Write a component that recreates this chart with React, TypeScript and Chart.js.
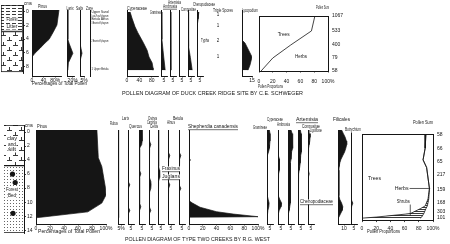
import React, { useEffect, useMemo, useRef } from 'react';
import { Chart, registerables } from 'chart.js';

Chart.register(...registerables);

const INK = '#151515';
const FONT = "'Liberation Sans', 'DejaVu Sans', sans-serif";
Chart.defaults.font.family = FONT;

/* ================= DATA : Duck Creek Ridge (top diagram) ================= */
const topDepthTicks = [0, 2, 4, 6, 8];
const topLithoBounds = [-1, 2.9, 8.85];
const topLithoKinds = ['litter', 'marsh'];

const pinusTopDepth = [0, 2.05, 3.1, 4.0, 4.5, 5.2, 5.9, 6.4, 8.1];
const pinusTopPct = [93, 86, 72, 59, 45, 28, 10, 0, 0];
const larixTopDepth = [0, 4, 4.6, 5.9, 7.2, 8.2];
const larixTopPct = [3, 3, 8, 21, 5, 3];
const salixTopDepth = [0, 4.8, 5.9, 6.8, 8.2];
const salixTopPct = [0.4, 0.4, 2.5, 0.4, 0.4];
const cyperTopDepth = [0.27, 1.1, 2.3, 3.1, 4.4, 5.5, 6.4, 7.2, 7.9, 8.2];
const cyperTopPct = [10, 16, 26, 35, 52, 65, 71, 81, 84, 84];
const gramTopDepth = [0.27, 4, 6, 8.2];
const gramTopPct = [0.5, 1.5, 4, 7];
const ambrTopDepth = [0.27, 8.2];
const ambrTopPct = [0.8, 1.5];
const artTopDepth = [0.27, 8.2];
const artTopPct = [0.8, 0.8];
const compTopDepth = [0.27, 5, 6.5, 8.2];
const compTopPct = [0.5, 1, 4, 7];
const chenTopDepth = [0.27, 1.2, 2, 8.2];
const chenTopPct = [3, 2, 0.5, 0.5];
const lycoTopDepth = [4.1, 4.5, 6.4, 7.5, 8.2];
const lycoTopPct = [0, 4.5, 15, 12, 9];
const tripleDepth = [0.7, 2.2, 4.2, 6.4];
const tripleCount = [1, 1, 2, 1];
const zoneDepth = [0.31, 0.78, 1.27, 1.82, 4.19, 8.05];
const zoneText = ['Upper Sand', 'Larix-Picea Sphagnum', 'Betula Alnus', '3 Brownish Sphagnum', '2 Brownish Sphagnum', '1 Upper Betula'];
const sumTopDepth = [0.27, 2.45, 4.5, 6.4, 8.3];
const sumTop = [1067, 533, 400, 79, 58];
const treesTopPct = [81, 76, 46, 20, 3];

/* ================= DATA : Two Creeks (bottom diagram) ================= */
const botDepthTicks = [0, 2, 4, 6, 8, 10, 12, 14];
const botLithoBounds = [-1, 4.8, 14.4];
const botLithoKinds = ['marsh', 'stipple'];

const pinusBotDepth = [0, 3.8, 5, 7.8, 8.9, 10, 11.2, 12];
const pinusBotPct = [87, 89, 94, 99, 100, 94, 74, 1];

const gridB = [0, 0.5, 1, 1.5, 2, 2.5, 3, 3.5, 4, 4.5, 5, 5.5, 6, 6.5, 7, 7.5, 8, 8.5, 9, 9.5, 10, 10.5, 11, 11.5, 12];
const rubusB = [0, 0, 0, 0, 0, 0, 0, 0, 1.5, 1.5, 1.5, 1.5, 1.5, 1.5, 1.5, 1.5, 1.5, 1.5, 1.5, 1.5, 1.5, 1.5, 1.5, 1.5, 0];
const larixB = [0, 0, 0, 0, 0, 0, 0, 0, 0, 0, 0, 0, 0, 0, 0.5, 3, 0.5, 0, 0, 0, 0, 0.5, 3, 0.5, 0];
const quercusB = [5, 5.5, 5.5, 5, 4.5, 1, 1, 1, 1, 1, 1, 1, 3, 1, 1, 1, 1, 1, 1, 1, 1, 3, 1, 1, 0];
const carpinusB = [0.5, 0.5, 0.5, 1.5, 3, 1, 0.5, 0.5, 0.5, 0.5, 0.5, 0.5, 0.5, 1, 3, 3.5, 3, 1, 0.5, 0.5, 0.5, 0.5, 3, 0.5, 0];
const celtisB = [1, 1, 1, 1, 1, 1, 1, 1, 1, 1, 1.5, 2.5, 3, 2.5, 1, 0.5, 0.5, 0.5, 0.5, 0.5, 0.5, 0.5, 0.5, 0.5, 0];
const alnusB = [0.3, 0.3, 0.3, 0.3, 0.3, 0.3, 1, 3, 1, 0.3, 0.3, 0.3, 0.3, 0.3, 0.3, 3, 1, 0.3, 0.3, 0.3, 0.3, 0.3, 0.3, 0.3, 0];
const betulaB = [0.3, 0.3, 0.3, 0.3, 0.3, 0.3, 0.3, 3, 1, 0.3, 0.3, 0.3, 0.3, 0.3, 0.3, 1, 3, 0.3, 0.3, 0.3, 0.3, 0.3, 0.3, 0.3, 0];

const shepDepth = [0, 3.8, 4.1, 4.4, 9.67, 10.0, 10.57, 11.18, 11.5, 11.86, 11.94];
const shepPct = [0, 0, 2, 0, 0, 5, 16, 40, 64, 100, 0];

const gramB = [4, 5, 5, 5, 4.5, 4, 2.5, 0.5, 0.5, 0.5, 0.5, 0.5, 0.5, 0.5, 0.5, 0.5, 0.5, 0.5, 0.5, 2, 3.5, 3, 1.5, 0.5, 0];
const cyperB = [0.5, 0.5, 0.5, 0.5, 0.5, 0.5, 0.5, 1, 2.5, 2.5, 2.5, 2, 1, 0.5, 0.5, 0.5, 0.5, 0.5, 0.5, 3, 6, 5, 2, 0.5, 0];
const artemB = [5, 7, 8, 8, 8, 7, 6, 5, 5, 4, 4, 4, 4, 4, 4, 4, 4, 4, 4, 4, 3.5, 3, 2, 0.5, 0];
const ambrB = [4, 5, 6, 6, 6, 5.5, 5, 4.5, 4, 3.5, 3, 2, 1, 0.5, 0.5, 0.5, 0.5, 0.5, 0.5, 0.5, 0.5, 0.5, 0.5, 0.5, 0];
const compB = [3.5, 3.5, 3.5, 3, 2, 1, 0.5, 0.5, 0.5, 0.5, 0.5, 0.5, 2, 0.5, 0.5, 0.5, 0.5, 0.5, 0.5, 0.5, 0.5, 0.5, 0.5, 0.5, 0];
const filiB = [6, 9, 12, 14, 14.5, 13, 11, 8, 5, 3, 2, 1.5, 1.5, 1.5, 1.5, 1.5, 1.5, 1.5, 1.5, 3, 6, 8, 7, 4, 1];
const botryB = [0.3, 0.3, 0.3, 0.3, 0.3, 0.3, 0.3, 0.3, 0.3, 0.3, 0.3, 0.3, 0.3, 0.3, 0.3, 0.3, 0.3, 0.3, 0.3, 1.5, 3, 1, 0.3, 0.3, 0];

const sumBotDepth = [0.14, 2.05, 3.97, 5.88, 7.93, 9.85, 11.08, 12.04];
const sumBot = [58, 66, 65, 217, 159, 168, 303, 101];
const propBotDepth = [0, 2, 3.7, 4.8, 7.8, 9.3, 10.3, 10.7, 11.4, 11.9, 12.05];
const treesBot = [90, 89, 86, 91, 95, 93, 89, 82, 68, 20, 0];
const treesShrubsBot = [90, 89, 86, 91, 95, 94, 92, 90, 87, 84, 82];

const pctTicks100 = [0, 20, 40, 60, 80, 100];
const pctLabels100 = ['0', '20', '40', '60', '80', '100%'];

/* ================= helpers ================= */
type Spec = { cx: number; cy: number; cw: number; ch: number; make: () => any };
type TextItem = { t: string; x: number; y: number; w?: number; size?: number; align?: 'left' | 'center' | 'right'; u?: boolean; bg?: boolean };

function drawText(ctx: CanvasRenderingContext2D, it: TextItem) {
  const size = it.size ?? 4.5;
  ctx.save();
  ctx.font = `${size}px ${FONT}`;
  ctx.textBaseline = 'middle';
  ctx.textAlign = 'left';
  const m = ctx.measureText(it.t).width || 1;
  const sx = it.w ? it.w / m : 1;
  const W = m * sx;
  const x0 = it.align === 'center' ? it.x - W / 2 : it.align === 'right' ? it.x - W : it.x;
  if (it.bg) {
    ctx.fillStyle = '#fff';
    ctx.fillRect(x0 - 0.5, it.y - size * 0.55, W + 1, size * 1.1);
  }
  ctx.fillStyle = INK;
  ctx.translate(x0, it.y);
  ctx.scale(sx, 1);
  ctx.fillText(it.t, 0, 0);
  ctx.restore();
  if (it.u) {
    ctx.save();
    ctx.strokeStyle = INK;
    ctx.lineWidth = 0.6;
    ctx.beginPath();
    ctx.moveTo(x0, it.y + size * 0.6);
    ctx.lineTo(x0 + W, it.y + size * 0.6);
    ctx.stroke();
    ctx.restore();
  }
}

function pattern(kind: string): CanvasPattern | string {
  const dims: Record<string, [number, number]> = { litter: [6, 3], marsh: [12, 10], stipple: [3, 3], stripes: [4, 2] };
  const [w, h] = dims[kind];
  const c = document.createElement('canvas');
  c.width = w;
  c.height = h;
  const g = c.getContext('2d');
  if (!g) return '#ddd';
  g.fillStyle = '#fff';
  g.fillRect(0, 0, w, h);
  g.fillStyle = '#3a3a3a';
  if (kind === 'litter') g.fillRect(0, 1, 4, 1);
  if (kind === 'marsh') {
    g.fillRect(1, 4, 5, 1); g.fillRect(3, 1, 1, 3);
    g.fillRect(7, 9, 5, 1); g.fillRect(9, 6, 1, 3);
  }
  if (kind === 'stipple') { g.fillStyle = '#666'; g.fillRect(1, 1, 1, 1); }
  if (kind === 'stripes') g.fillRect(0, 0, 4, 1);
  return g.createPattern(c, 'repeat') || '#ddd';
}

function frame(x: number, y: number, w: number, h: number, pl: number, pr: number, pt: number, pb: number) {
  const cx = Math.floor(x - pl);
  const cy = Math.floor(y - pt);
  const padL = x - cx;
  const padT = y - cy;
  const cw = Math.ceil(padL + w + pr);
  const ch = Math.ceil(padT + h + pb);
  return { cx, cy, cw, ch, padL, padT, padR: cw - padL - w, padB: ch - padT - h };
}

type Series = { d: number[]; v: number[]; fill?: any; bg?: string; bw?: number };
type Note = { t: string; vx: number; vy: number; w?: number; size?: number; align?: 'left' | 'center' | 'right'; line?: [number, number, number, number] };

function notesPlugin(notes: Note[]) {
  return {
    id: 'notes',
    afterDraw(chart: any) {
      const ctx = chart.ctx as CanvasRenderingContext2D;
      const xs = chart.scales.x;
      const ys = chart.scales.y;
      notes.forEach((n) => {
        drawText(ctx, { t: n.t, x: xs.getPixelForValue(n.vx), y: ys.getPixelForValue(n.vy), w: n.w, size: n.size, align: n.align });
        if (n.line) {
          ctx.save();
          ctx.strokeStyle = INK;
          ctx.lineWidth = 0.7;
          ctx.beginPath();
          ctx.moveTo(xs.getPixelForValue(n.line[0]), ys.getPixelForValue(n.line[1]));
          ctx.lineTo(xs.getPixelForValue(n.line[2]), ys.getPixelForValue(n.line[3]));
          ctx.stroke();
          ctx.restore();
        }
      });
    },
  };
}

type DP = {
  x: number; y: number; w: number; h: number; dmin: number; dmax: number; vmax: number;
  ticks?: number[]; labels?: string[]; series?: Series[]; left?: boolean; bottom?: boolean;
  box?: boolean; right?: { d: number[]; labels: (string | number)[] }; notes?: Note[]; tickPad?: number;
};

const tickFont = { size: 5, family: FONT };

function depthPanel(o: DP): Spec {
  const rightW = o.right ? 16 : 0;
  const f = frame(o.x, o.y, o.w, o.h, 10, 10 + rightW, 3, 12);
  const showBottom = o.bottom !== false;
  return {
    cx: f.cx, cy: f.cy, cw: f.cw, ch: f.ch,
    make: () => {
      const datasets = (o.series || []).map((s) => ({
        data: s.d.map((d, i) => ({ x: s.v[i], y: d })),
        borderColor: INK,
        borderWidth: s.bw ?? 0.7,
        backgroundColor: s.bg === 'stripes' ? pattern('stripes') : s.bg ?? INK,
        fill: s.fill === undefined ? 'origin' : s.fill,
        pointRadius: 0,
        tension: 0,
      }));
      const scales: any = {
        x: {
          type: 'linear', position: 'bottom', min: 0, max: o.vmax,
          afterBuildTicks: (s: any) => { s.ticks = (o.ticks || []).map((v) => ({ value: v })); },
          afterFit: (s: any) => { s.height = f.padB; },
          grid: { display: showBottom, drawOnChartArea: false, drawTicks: true, tickLength: 1.5, color: INK, lineWidth: 0.8 },
          border: { display: showBottom, color: INK, width: 1 },
          ticks: {
            display: showBottom, font: tickFont, color: INK, padding: o.tickPad ?? 0, maxRotation: 0, autoSkip: false,
            callback: (_v: any, i: number) => (o.labels || [])[i] ?? '',
          },
        },
        y: {
          type: 'linear', position: 'left', reverse: true, min: o.dmin, max: o.dmax,
          afterFit: (s: any) => { s.width = 0; },
          grid: { display: false, drawTicks: false },
          border: { display: o.left !== false, color: INK, width: 1 },
          ticks: { display: false },
        },
      };
      if (o.box) {
        scales.xt = {
          type: 'linear', axis: 'x', position: 'top', min: 0, max: o.vmax,
          afterFit: (s: any) => { s.height = 0; },
          grid: { display: false, drawTicks: false },
          border: { display: true, color: INK, width: 1 },
          ticks: { display: false },
        };
      }
      if (o.right) {
        const r = o.right;
        scales.yr = {
          type: 'linear', axis: 'y', position: 'right', reverse: true, min: o.dmin, max: o.dmax,
          afterBuildTicks: (s: any) => { s.ticks = r.d.map((v) => ({ value: v })); },
          afterFit: (s: any) => { s.width = rightW; },
          grid: { display: false, drawTicks: false },
          border: { display: true, color: INK, width: 1 },
          ticks: { font: tickFont, color: INK, padding: 4, autoSkip: false, callback: (_v: any, i: number) => String(r.labels[i] ?? '') },
        };
      }
      return {
        type: 'line',
        data: { datasets },
        options: {
          indexAxis: 'y', responsive: false, animation: false, events: [],
          layout: { padding: { left: f.padL, right: f.padR - rightW, top: f.padT, bottom: 0 } },
          plugins: { legend: { display: false }, tooltip: { enabled: false } },
          scales,
        },
        plugins: [notesPlugin(o.notes || [])],
      };
    },
  };
}

type LP = { x: number; y: number; w: number; h: number; dmin: number; dmax: number; ticks: number[]; bounds: number[]; kinds: string[]; stones: { x: number; d: number }[] };

function lithoPanel(o: LP): Spec {
  const axisW = 10;
  const f = frame(o.x, o.y, o.w, o.h, 1, axisW + 1, 1, 1);
  return {
    cx: f.cx, cy: f.cy, cw: f.cw, ch: f.ch,
    make: () => {
      const datasets: any[] = o.kinds.map((k, i) => ({
        type: 'bar',
        data: [{ x: 0.5, y: [o.bounds[i], o.bounds[i + 1]] }],
        backgroundColor: pattern(k),
        borderColor: INK, borderWidth: 1, borderSkipped: false,
        grouped: false, barThickness: o.w, order: 2,
      }));
      datasets.push({
        type: 'scatter',
        data: o.stones.map((s) => ({ x: s.x, y: s.d })),
        pointRadius: 2.6, backgroundColor: INK, borderWidth: 0, order: 1,
      });
      return {
        type: 'bar',
        data: { datasets },
        options: {
          responsive: false, animation: false, events: [],
          layout: { padding: { left: f.padL, right: f.padR - axisW, top: f.padT, bottom: f.padB } },
          plugins: { legend: { display: false }, tooltip: { enabled: false } },
          scales: {
            x: { type: 'linear', min: 0, max: 1, display: false },
            y: {
              type: 'linear', position: 'right', reverse: true, min: o.dmin, max: o.dmax,
              afterBuildTicks: (s: any) => { s.ticks = o.ticks.map((v) => ({ value: v })); },
              afterFit: (s: any) => { s.width = axisW; },
              grid: { display: true, drawOnChartArea: false, drawTicks: true, tickLength: 2, color: INK, lineWidth: 0.8 },
              border: { display: true, color: INK, width: 1 },
              ticks: { font: tickFont, color: INK, padding: 1, autoSkip: false },
            },
          },
        },
      };
    },
  };
}

function overlayPanel(items: TextItem[]): Spec {
  return {
    cx: 0, cy: 0, cw: 450, ch: 244,
    make: () => ({
      type: 'scatter',
      data: { datasets: [] },
      options: {
        responsive: false, animation: false, events: [],
        layout: { padding: 0 },
        plugins: { legend: { display: false }, tooltip: { enabled: false } },
        scales: { x: { display: false }, y: { display: false } },
      },
      plugins: [{ id: 'pageText', afterDraw(chart: any) { items.forEach((it) => drawText(chart.ctx, it)); } }],
    }),
  };
}

/* ================= layout ================= */
function buildSpecs(): Spec[] {
  const T = { y: 10, h: 66, dmin: 0, dmax: 9 };
  const B = { y: 130, h: 94, dmin: 0, dmax: 12.86 };
  const s: Spec[] = [];

  // ---- top diagram ----
  s.push(lithoPanel({ x: 1, y: 2.67, w: 22, h: 73.33, dmin: -1, dmax: 9, ticks: topDepthTicks, bounds: topLithoBounds, kinds: topLithoKinds, stones: [] }));
  s.push(depthPanel({ ...T, x: 32, w: 29, vmax: 100, ticks: [0, 40, 80], labels: ['0', '40', '80%'], series: [{ d: pinusTopDepth, v: pinusTopPct }] }));
  s.push(depthPanel({ ...T, x: 67, w: 7, vmax: 25, ticks: [20], labels: ['20%'], series: [{ d: larixTopDepth, v: larixTopPct }] }));
  s.push(depthPanel({ ...T, x: 80, w: 4, vmax: 5, ticks: [5], labels: ['5%'], series: [{ d: salixTopDepth, v: salixTopPct }] }));
  s.push(depthPanel({
    ...T, x: 90, w: 30, vmax: 30, bottom: false,
    notes: zoneDepth.map((d, i) => ({ t: zoneText[i], vx: 1.5, vy: d, w: 17, size: 3.5 })),
  }));
  s.push(depthPanel({ ...T, x: 127, w: 31, vmax: 100, ticks: [0, 40, 80], labels: ['0', '40', '80'], series: [{ d: cyperTopDepth, v: cyperTopPct }] }));
  const herbsTop: [number, number[], number[]][] = [
    [161, gramTopDepth, gramTopPct], [170, ambrTopDepth, ambrTopPct], [179, artTopDepth, artTopPct],
    [188, compTopDepth, compTopPct], [197, chenTopDepth, chenTopPct],
  ];
  herbsTop.forEach(([x, d, v]) => s.push(depthPanel({ ...T, x, w: 6, vmax: 10, ticks: [5], labels: ['5'], series: [{ d, v }] })));
  s.push(depthPanel({
    ...T, x: 213, w: 10, vmax: 10, left: false, bottom: false,
    notes: tripleDepth.map((d, i) => ({ t: String(tripleCount[i]), vx: 5, vy: d, size: 4.5, align: 'center' as const })),
  }));
  s.push(depthPanel({ ...T, x: 242, w: 10, vmax: 15, ticks: [15], labels: ['15'], series: [{ d: lycoTopDepth, v: lycoTopPct }] }));
  s.push(depthPanel({
    x: 259, y: 12, w: 69, h: 59, dmin: sumTopDepth[0], dmax: sumTopDepth[sumTopDepth.length - 1], vmax: 100,
    ticks: pctTicks100, labels: pctLabels100, tickPad: 6, box: true,
    series: [{ d: sumTopDepth, v: treesTopPct, fill: false, bw: 0.8 }],
    right: { d: sumTopDepth, labels: sumTop },
    notes: [{ t: 'Trees', vx: 27, vy: 3.0, w: 12 }, { t: 'Herbs', vx: 52, vy: 6.2, w: 12 }],
  }));

  // ---- bottom diagram ----
  s.push(lithoPanel({
    x: 1, y: 122.7, w: 23, h: 112.6, dmin: -1, dmax: 14.4, ticks: botDepthTicks, bounds: botLithoBounds, kinds: botLithoKinds,
    stones: [{ x: 0.35, d: 6.0 }, { x: 0.62, d: 7.2 }, { x: 0.4, d: 11.6 }],
  }));
  s.push(depthPanel({ ...B, x: 36, w: 70, vmax: 100, ticks: pctTicks100, labels: pctLabels100, series: [{ d: pinusBotDepth, v: pinusBotPct }] }));
  const treesCols: [number, number[], string][] = [
    [118, rubusB, '5%'], [128, larixB, '5'], [139, quercusB, '5'], [149, carpinusB, '5'],
    [158, celtisB, '5'], [168, alnusB, '5'], [179, betulaB, '5'],
  ];
  treesCols.forEach(([x, v, lab]) => s.push(depthPanel({ ...B, x, w: 6, vmax: 10, ticks: [5], labels: [lab], series: [{ d: gridB, v }] })));
  s.push(depthPanel({ ...B, x: 189, w: 69, vmax: 100, ticks: pctTicks100, labels: pctLabels100, series: [{ d: shepDepth, v: shepPct }] }));
  const herbCols: [number, number[]][] = [[267, gramB], [278, cyperB], [288, artemB], [298, ambrB], [308, compB]];
  herbCols.forEach(([x, v]) => s.push(depthPanel({ ...B, x, w: 6, vmax: 10, ticks: [5], labels: ['5'], series: [{ d: gridB, v }] })));
  s.push(depthPanel({ ...B, x: 338, w: 12, vmax: 20, ticks: [10], labels: ['10'], series: [{ d: gridB, v: filiB }] }));
  s.push(depthPanel({ ...B, x: 351, w: 6, vmax: 10, ticks: [5], labels: ['5'], series: [{ d: gridB, v: botryB }] }));
  s.push(depthPanel({
    x: 362, y: 130, w: 71, h: 90.6, dmin: 0, dmax: 12.4, vmax: 100,
    ticks: pctTicks100, labels: pctLabels100, tickPad: 3.5, box: true,
    series: [
      { d: propBotDepth, v: treesBot, fill: false, bw: 0.8 },
      { d: propBotDepth, v: treesShrubsBot, fill: '-1', bg: 'stripes', bw: 0.8 },
    ],
    right: { d: sumBotDepth, labels: sumBot },
    notes: [
      { t: 'Trees', vx: 8.5, vy: 6.4, w: 13 },
      { t: 'Herbs', vx: 46, vy: 7.8, w: 14, line: [67, 7.8, 96, 7.8] },
      { t: 'Shrubs', vx: 49, vy: 9.7, w: 13, line: [68, 10.1, 68, 11.7] },
    ],
  }));

  // ---- text layer ----
  const texts: TextItem[] = [
    { t: 'cms', x: 24, y: 3.5, w: 8 },
    { t: 'Pinus', x: 38, y: 7, w: 9 },
    { t: 'Larix', x: 66.5, y: 8.5, w: 7 },
    { t: 'Salix', x: 76, y: 8.5, w: 7 },
    { t: 'Zone', x: 86, y: 8.5, w: 7 },
    { t: 'Cyperaceae', x: 127, y: 9, w: 20 },
    { t: 'Gramineae', x: 150, y: 12.5, w: 12 },
    { t: 'Ambrosia', x: 163, y: 6.5, w: 14, u: true },
    { t: 'Artemisia', x: 168, y: 2.5, w: 13 },
    { t: 'Compositae', x: 181, y: 9.5, w: 15 },
    { t: 'Chenopodiaceae', x: 193, y: 5, w: 22 },
    { t: 'Typha', x: 201, y: 41, w: 8 },
    { t: 'Triple Spores', x: 213, y: 11, w: 20 },
    { t: 'Lycopodium', x: 242, y: 11, w: 16 },
    { t: 'Pollen Sum', x: 316, y: 8, w: 13 },
    { t: 'Percentages of Total Pollen', x: 32, y: 84, w: 55 },
    { t: 'Pollen Proportions', x: 258, y: 87, w: 25 },
    { t: 'POLLEN DIAGRAM OF DUCK CREEK RIDGE SITE BY C.E. SCHWEGER', x: 122, y: 93.5, w: 181 },
    { t: 'Forest', x: 12, y: 20, w: 11, align: 'center', bg: true },
    { t: 'Litter', x: 12, y: 27, w: 11, align: 'center', bg: true },

    { t: 'cms', x: 25, y: 126, w: 8 },
    { t: 'Pinus', x: 37, y: 127, w: 10 },
    { t: 'Rubus', x: 110, y: 123.5, w: 8 },
    { t: 'Larix', x: 122, y: 119, w: 7 },
    { t: 'Quercus', x: 129, y: 127, w: 13 },
    { t: 'Ostrya', x: 148, y: 118.5, w: 9 },
    { t: 'Carpinus', x: 147, y: 122.5, w: 10 },
    { t: 'Celtis', x: 150, y: 127, w: 8 },
    { t: 'Alnus', x: 167, y: 123, w: 8 },
    { t: 'Betula', x: 173, y: 118.5, w: 10 },
    { t: 'Fraxinus', x: 162, y: 169, w: 18, u: true, bg: true },
    { t: 'Juglans', x: 162, y: 177, w: 18, u: true, bg: true },
    { t: 'Shepherdia canadensis', x: 188, y: 127, w: 50, u: true },
    { t: 'Gramineae', x: 253, y: 128, w: 14 },
    { t: 'Cyperaceae', x: 267, y: 120, w: 16 },
    { t: 'Ambrosia', x: 277, y: 125, w: 13 },
    { t: 'Artemisia', x: 296, y: 120, w: 22, u: true },
    { t: 'Compositae', x: 302, y: 127, w: 18 },
    { t: 'Liguliflorae', x: 310, y: 131, w: 12, bg: true },
    { t: 'Chenopodiaceae', x: 300, y: 202, w: 33, u: true, bg: true },
    { t: 'Filicales', x: 333, y: 120, w: 17 },
    { t: 'Botrychium', x: 345, y: 130, w: 16, bg: true },
    { t: 'Pollen Sum', x: 413, y: 123, w: 20 },
    { t: 'Percentages of Total Pollen', x: 38, y: 232, w: 62 },
    { t: 'Pollen Proportions', x: 367, y: 232, w: 33 },
    { t: 'POLLEN DIAGRAM OF TYPE TWO CREEKS BY R.G. WEST', x: 125, y: 240, w: 145 },
    { t: 'clay', x: 12, y: 139, w: 10, align: 'center', bg: true },
    { t: 'and', x: 12, y: 144.5, w: 8, align: 'center', bg: true },
    { t: 'silt', x: 12, y: 150, w: 8, align: 'center', bg: true },
    { t: 'Forest', x: 12, y: 190, w: 12, align: 'center', bg: true },
    { t: 'Bed', x: 12, y: 196, w: 8, align: 'center', bg: true },
  ];
  s.push(overlayPanel(texts));
  return s;
}

function ChartCanvas({ spec }: { spec: Spec }) {
  const ref = useRef<HTMLCanvasElement>(null);
  useEffect(() => {
    if (!ref.current) return;
    const chart = new Chart(ref.current, spec.make());
    return () => chart.destroy();
  }, [spec]);
  return (
    <canvas
      ref={ref}
      width={spec.cw}
      height={spec.ch}
      style={{ position: 'absolute', left: spec.cx, top: spec.cy, width: spec.cw, height: spec.ch }}
    />
  );
}

export default function App() {
  const specs = useMemo(() => buildSpecs(), []);
  return (
    <div style={{ position: 'fixed', left: 0, top: 0, width: 450, height: 244, background: '#fff', overflow: 'hidden' }}>
      {specs.map((sp, i) => (
        <ChartCanvas key={i} spec={sp} />
      ))}
    </div>
  );
}
